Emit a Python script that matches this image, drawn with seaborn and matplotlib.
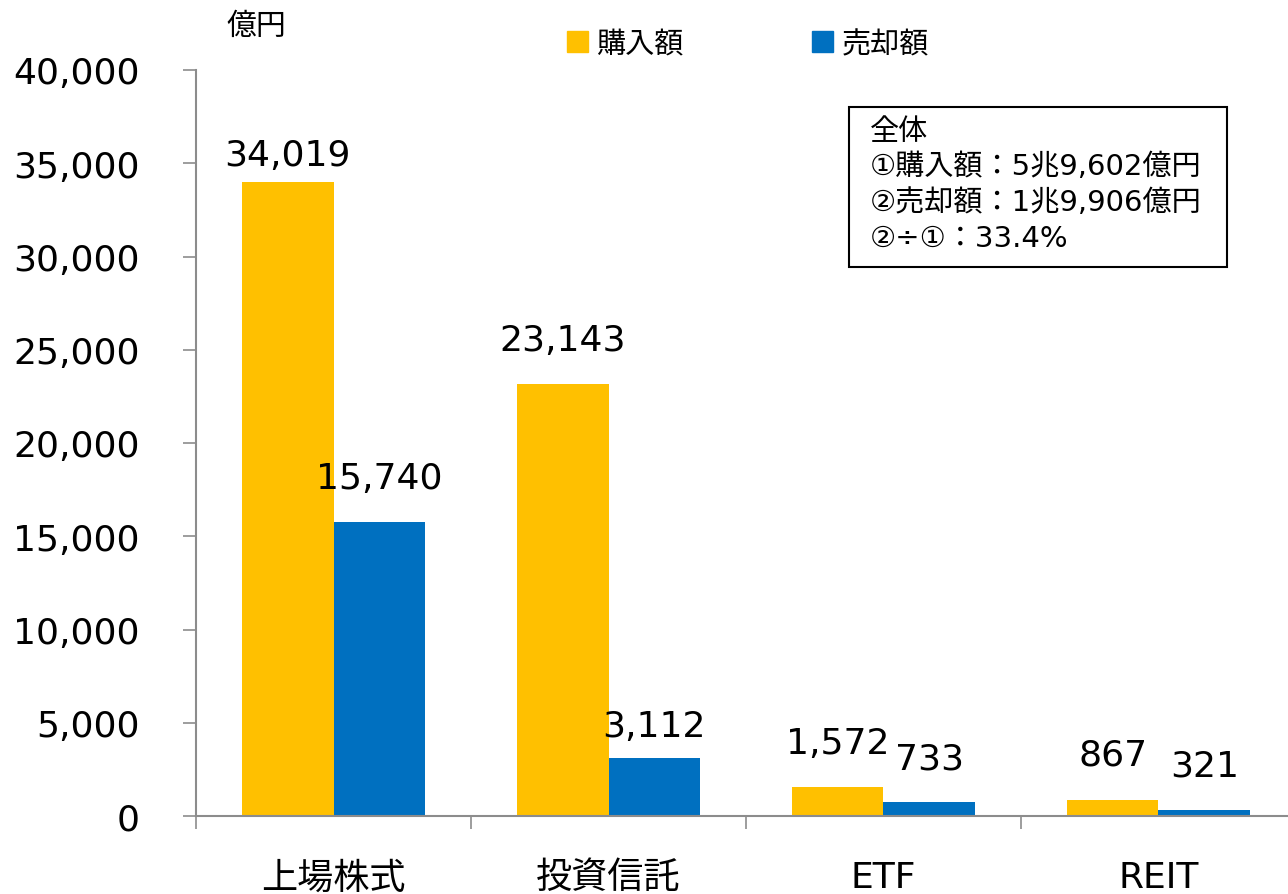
import pandas as pd
import seaborn as sns
import matplotlib.pyplot as plt
from matplotlib.patches import Rectangle

categories = ['上場株式', '投資信託', 'ETF', 'REIT']
series = ['購入額', '売却額']
buy = [34019, 23143, 1572, 867]
sell = [15740, 3112, 733, 321]
yticks = [0, 5000, 10000, 15000, 20000, 25000, 30000, 35000, 40000]
box_lines = ['全体', '①購入額：5兆9,602億円', '②売却額：1兆9,906億円', '②÷①：33.4%']

df = pd.DataFrame({
    'cat': categories * 2,
    'kind': [series[0]] * 4 + [series[1]] * 4,
    'val': buy + sell,
})

sns.set_style('white')
plt.rcParams['font.family'] = ['DejaVu Sans', 'Noto Sans CJK JP']
plt.rcParams['text.color'] = 'black'
plt.rcParams['xtick.color'] = 'black'
plt.rcParams['ytick.color'] = 'black'

fig = plt.figure(figsize=(12.88, 8.95), dpi=100)
W, H = 1288, 895
ax = fig.add_axes([196 / W, 1 - 817 / H, 1100 / W, 746 / H])

pal = {'購入額': '#FFC000', '売却額': '#0070C0'}
sns.barplot(data=df, x='cat', y='val', hue='kind', order=categories, hue_order=series,
            palette=pal, width=0.667, saturation=1, linewidth=0, ax=ax, legend=False)

ax.set_xlim(-0.5, 3.5)
ax.set_ylim(0, 40000)
ax.set_yticks(yticks)
ax.set_yticklabels([f'{v:,}' for v in yticks], fontsize=26)
ax.set_xlabel('')
ax.set_ylabel('')
ax.tick_params(axis='y', direction='out', length=9.5, width=1.2, color='#8c8c8c',
               labelcolor='black', pad=31, left=True)
ax.tick_params(axis='x', which='major', length=0, pad=32, labelsize=26, labelcolor='black')
ax.set_xticks([-0.5, 0.5, 1.5, 2.5, 3.5], minor=True)
ax.tick_params(axis='x', which='minor', direction='out', length=9.5, width=1.2, color='#8c8c8c', bottom=True)
for s in ['top', 'right']:
    ax.spines[s].set_visible(False)
for s in ['left', 'bottom']:
    ax.spines[s].set_color('#8c8c8c')
    ax.spines[s].set_linewidth(1.5)

# bar labels, a few sit closer to the bar top
pads = [[7, 19.5, 19.5, 20.5], [19.5, 11, 19.5, 19.5]]
for cont, vals, pp in zip(ax.containers, [buy, sell], pads):
    for bar, v, p in zip(cont, vals, pp):
        ax.annotate(f'{v:,}', (bar.get_x() + bar.get_width() / 2, bar.get_height()),
                    xytext=(0, p), textcoords='offset points', ha='center', va='bottom',
                    fontsize=26, color='black')

fig.text(226 / W, 1 - 26 / H, '億円', fontsize=21.5, ha='left', va='center')

handles = [Rectangle((0, 0), 1, 1, color=pal[s]) for s in series]
fig.legend(handles, series, loc='center', bbox_to_anchor=(748 / W, 1 - 45 / H), ncol=2,
           frameon=False, fontsize=21, handlelength=0.72, handleheight=0.72,
           handletextpad=0.3, columnspacing=4.4)

fig.patches.append(Rectangle((849 / W, 1 - 268 / H), 378 / W, 160 / H, transform=fig.transFigure,
                             fill=False, edgecolor='black', linewidth=1.5))
for i, line in enumerate(box_lines):
    fig.text(870 / W, 1 - (132 + 35.5 * i) / H, line, fontsize=21, ha='left', va='center')

fig.savefig('out.png', dpi=100)
